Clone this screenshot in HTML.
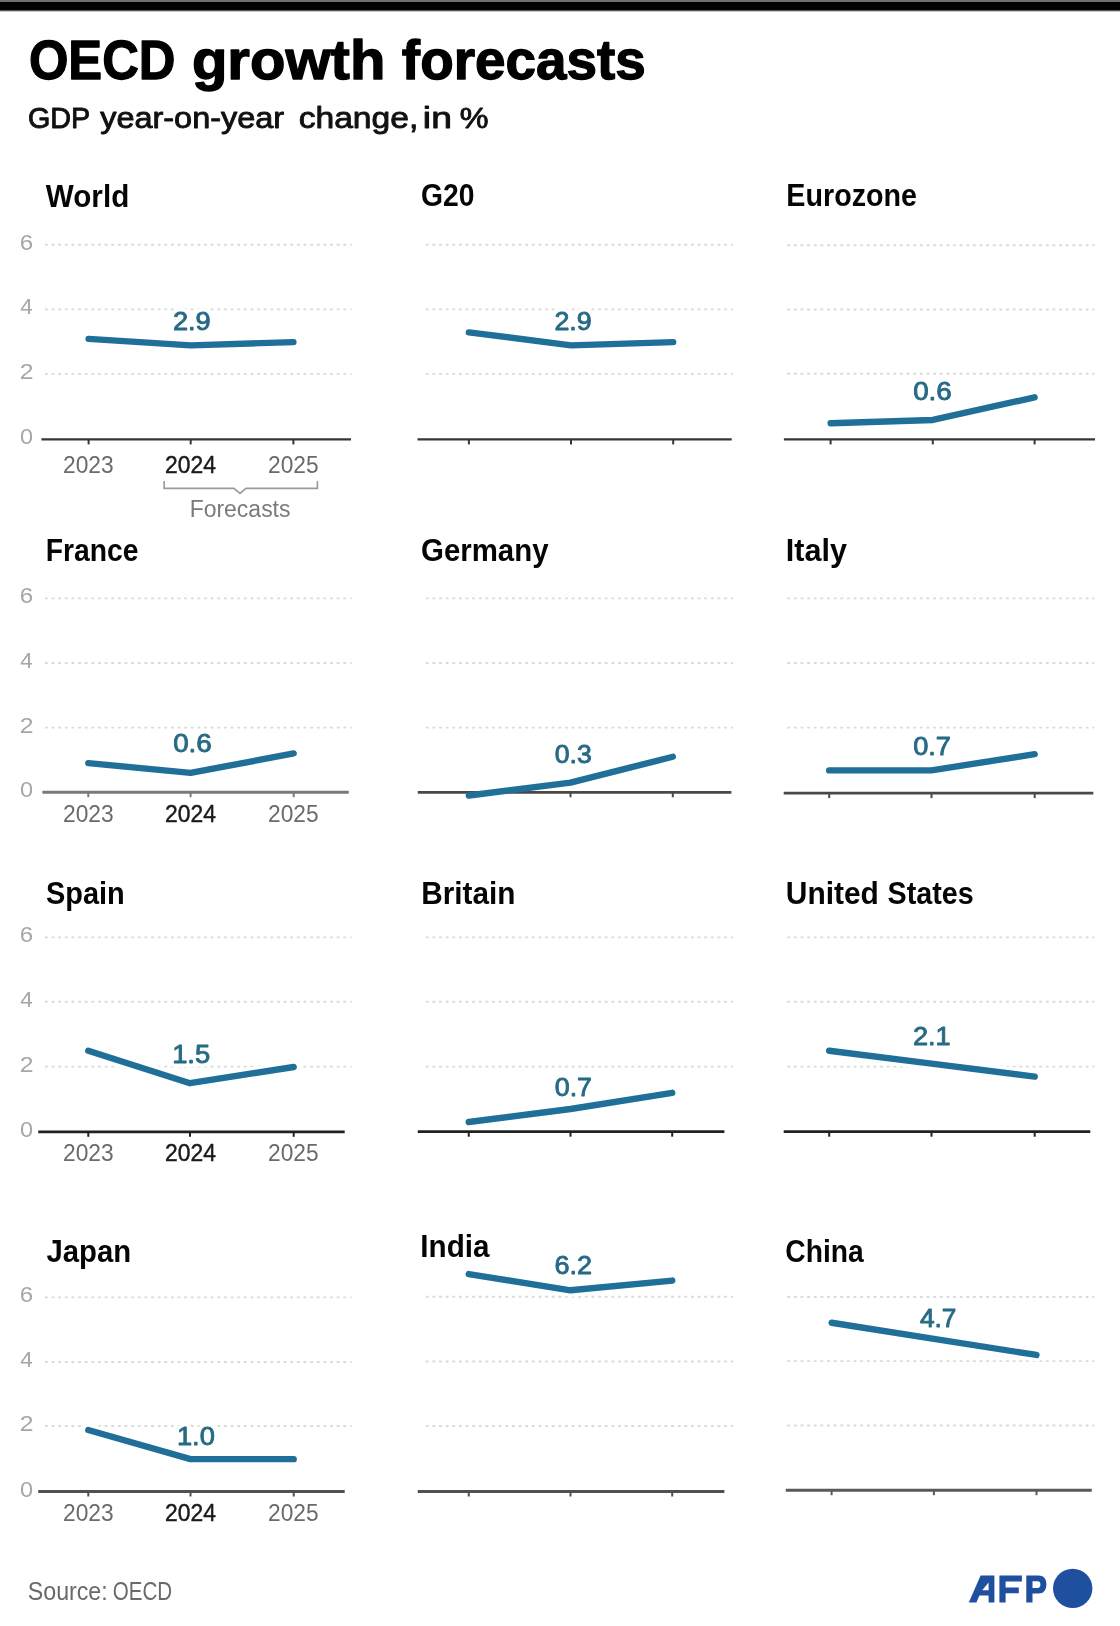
<!DOCTYPE html><html><head><meta charset="utf-8"><title>OECD growth forecasts</title><style>html,body{margin:0;padding:0;background:#fff;width:1120px;height:1626px;overflow:hidden}svg{display:block;filter:blur(0.5px)}.bar{position:absolute;left:0;width:1120px}</style></head><body><svg width="1120" height="1626" viewBox="0 0 1120 1626"><g stroke="#dadada" stroke-width="1.9" stroke-dasharray="2.8 3.83" fill="none"><line x1="45" y1="244.8" x2="351.5" y2="244.8"/><line x1="45" y1="309.4" x2="351.5" y2="309.4"/><line x1="45" y1="373.9" x2="351.5" y2="373.9"/><line x1="425.8" y1="244.8" x2="732.9" y2="244.8"/><line x1="425.8" y1="309.4" x2="732.9" y2="309.4"/><line x1="425.8" y1="373.9" x2="732.9" y2="373.9"/><line x1="787.3" y1="245.2" x2="1094.4" y2="245.2"/><line x1="787.3" y1="309.5" x2="1094.4" y2="309.5"/><line x1="787.3" y1="373.8" x2="1094.4" y2="373.8"/><line x1="45" y1="598.4" x2="351.5" y2="598.4"/><line x1="45" y1="663.0" x2="351.5" y2="663.0"/><line x1="45" y1="727.6" x2="351.5" y2="727.6"/><line x1="425.8" y1="598.4" x2="732.9" y2="598.4"/><line x1="425.8" y1="663.0" x2="732.9" y2="663.0"/><line x1="425.8" y1="727.6" x2="732.9" y2="727.6"/><line x1="787.3" y1="598.4" x2="1094.4" y2="598.4"/><line x1="787.3" y1="663.0" x2="1094.4" y2="663.0"/><line x1="787.3" y1="727.6" x2="1094.4" y2="727.6"/><line x1="45" y1="937.4" x2="351.5" y2="937.4"/><line x1="45" y1="1001.8" x2="351.5" y2="1001.8"/><line x1="45" y1="1066.6" x2="351.5" y2="1066.6"/><line x1="425.8" y1="937.4" x2="732.9" y2="937.4"/><line x1="425.8" y1="1001.8" x2="732.9" y2="1001.8"/><line x1="425.8" y1="1066.6" x2="732.9" y2="1066.6"/><line x1="787.3" y1="937.4" x2="1094.4" y2="937.4"/><line x1="787.3" y1="1001.8" x2="1094.4" y2="1001.8"/><line x1="787.3" y1="1066.6" x2="1094.4" y2="1066.6"/><line x1="45" y1="1297.4" x2="351.5" y2="1297.4"/><line x1="45" y1="1362.0" x2="351.5" y2="1362.0"/><line x1="45" y1="1426.0" x2="351.5" y2="1426.0"/><line x1="425.8" y1="1296.8" x2="732.9" y2="1296.8"/><line x1="425.8" y1="1361.5" x2="732.9" y2="1361.5"/><line x1="425.8" y1="1426.0" x2="732.9" y2="1426.0"/><line x1="787.3" y1="1297.0" x2="1094.4" y2="1297.0"/><line x1="787.3" y1="1361.1" x2="1094.4" y2="1361.1"/><line x1="787.3" y1="1425.5" x2="1094.4" y2="1425.5"/></g><g stroke="#fff" stroke-width="13" stroke-linejoin="round" stroke-linecap="round" fill="none"><polyline points="88.60,338.86 190.70,345.34 293.40,342.10"/><polyline points="468.90,332.37 571.00,345.34 673.20,342.10"/><polyline points="830.60,423.22 932.80,419.98 1034.60,397.32"/><polyline points="88.30,763.13 190.60,772.82 293.70,753.44"/><polyline points="468.90,795.53 570.50,782.60 672.80,756.75"/><polyline points="829.20,770.38 931.50,770.38 1034.70,754.16"/><polyline points="88.30,1050.80 190.00,1083.20 293.70,1067.00"/><polyline points="468.75,1121.99 570.50,1109.03 672.20,1092.84"/><polyline points="829.20,1050.74 931.50,1063.69 1034.70,1076.65"/><polyline points="88.30,1430.04 190.50,1459.15 293.70,1459.15"/><polyline points="468.75,1274.09 570.50,1290.31 672.20,1280.57"/><polyline points="831.60,1322.76 933.90,1338.86 1036.50,1354.96"/></g><g fill="none"><line x1="41.4" y1="439.4" x2="351.0" y2="439.4" stroke="#363636" stroke-width="2.4"/><line x1="88.6" y1="439.4" x2="88.6" y2="444.4" stroke="#363636" stroke-width="2"/><line x1="190.7" y1="439.4" x2="190.7" y2="444.4" stroke="#363636" stroke-width="2"/><line x1="293.4" y1="439.4" x2="293.4" y2="444.4" stroke="#363636" stroke-width="2"/><line x1="417.5" y1="439.4" x2="731.7" y2="439.4" stroke="#363636" stroke-width="2.4"/><line x1="468.9" y1="439.4" x2="468.9" y2="444.4" stroke="#363636" stroke-width="2"/><line x1="571.0" y1="439.4" x2="571.0" y2="444.4" stroke="#363636" stroke-width="2"/><line x1="673.2" y1="439.4" x2="673.2" y2="444.4" stroke="#363636" stroke-width="2"/><line x1="783.9" y1="439.4" x2="1095.0" y2="439.4" stroke="#363636" stroke-width="2.4"/><line x1="830.6" y1="439.4" x2="830.6" y2="444.4" stroke="#363636" stroke-width="2"/><line x1="932.8" y1="439.4" x2="932.8" y2="444.4" stroke="#363636" stroke-width="2"/><line x1="1034.6" y1="439.4" x2="1034.6" y2="444.4" stroke="#363636" stroke-width="2"/><line x1="42.4" y1="792.2" x2="348.8" y2="792.2" stroke="#7a7a7a" stroke-width="3.0"/><line x1="88.3" y1="792.2" x2="88.3" y2="797.2" stroke="#7a7a7a" stroke-width="2"/><line x1="190.6" y1="792.2" x2="190.6" y2="797.2" stroke="#7a7a7a" stroke-width="2"/><line x1="293.7" y1="792.2" x2="293.7" y2="797.2" stroke="#7a7a7a" stroke-width="2"/><line x1="417.75" y1="792.3" x2="731.4" y2="792.3" stroke="#494949" stroke-width="2.8"/><line x1="468.9" y1="792.3" x2="468.9" y2="797.3" stroke="#494949" stroke-width="2"/><line x1="570.5" y1="792.3" x2="570.5" y2="797.3" stroke="#494949" stroke-width="2"/><line x1="672.8" y1="792.3" x2="672.8" y2="797.3" stroke="#494949" stroke-width="2"/><line x1="783.7" y1="793.1" x2="1093.3" y2="793.1" stroke="#494949" stroke-width="2.8"/><line x1="829.2" y1="793.1" x2="829.2" y2="798.1" stroke="#494949" stroke-width="2"/><line x1="931.5" y1="793.1" x2="931.5" y2="798.1" stroke="#494949" stroke-width="2"/><line x1="1034.7" y1="793.1" x2="1034.7" y2="798.1" stroke="#494949" stroke-width="2"/><line x1="38.25" y1="1131.8" x2="344.7" y2="1131.8" stroke="#212121" stroke-width="2.8"/><line x1="88.3" y1="1131.8" x2="88.3" y2="1136.8" stroke="#212121" stroke-width="2"/><line x1="190.0" y1="1131.8" x2="190.0" y2="1136.8" stroke="#212121" stroke-width="2"/><line x1="293.7" y1="1131.8" x2="293.7" y2="1136.8" stroke="#212121" stroke-width="2"/><line x1="417.75" y1="1131.7" x2="724.4" y2="1131.7" stroke="#212121" stroke-width="2.8"/><line x1="468.75" y1="1131.7" x2="468.75" y2="1136.7" stroke="#212121" stroke-width="2"/><line x1="570.5" y1="1131.7" x2="570.5" y2="1136.7" stroke="#212121" stroke-width="2"/><line x1="672.2" y1="1131.7" x2="672.2" y2="1136.7" stroke="#212121" stroke-width="2"/><line x1="783.7" y1="1131.7" x2="1090.3" y2="1131.7" stroke="#212121" stroke-width="2.8"/><line x1="829.2" y1="1131.7" x2="829.2" y2="1136.7" stroke="#212121" stroke-width="2"/><line x1="931.5" y1="1131.7" x2="931.5" y2="1136.7" stroke="#212121" stroke-width="2"/><line x1="1034.7" y1="1131.7" x2="1034.7" y2="1136.7" stroke="#212121" stroke-width="2"/><line x1="38.25" y1="1491.5" x2="344.7" y2="1491.5" stroke="#505050" stroke-width="3.0"/><line x1="88.3" y1="1491.5" x2="88.3" y2="1496.5" stroke="#505050" stroke-width="2"/><line x1="190.5" y1="1491.5" x2="190.5" y2="1496.5" stroke="#505050" stroke-width="2"/><line x1="293.7" y1="1491.5" x2="293.7" y2="1496.5" stroke="#505050" stroke-width="2"/><line x1="417.75" y1="1491.5" x2="724.4" y2="1491.5" stroke="#505050" stroke-width="3.0"/><line x1="468.75" y1="1491.5" x2="468.75" y2="1496.5" stroke="#505050" stroke-width="2"/><line x1="570.5" y1="1491.5" x2="570.5" y2="1496.5" stroke="#505050" stroke-width="2"/><line x1="672.2" y1="1491.5" x2="672.2" y2="1496.5" stroke="#505050" stroke-width="2"/><line x1="785.8" y1="1490.2" x2="1091.8" y2="1490.2" stroke="#5a5a5a" stroke-width="3.0"/><line x1="831.6" y1="1490.2" x2="831.6" y2="1495.2" stroke="#5a5a5a" stroke-width="2"/><line x1="933.9" y1="1490.2" x2="933.9" y2="1495.2" stroke="#5a5a5a" stroke-width="2"/><line x1="1036.5" y1="1490.2" x2="1036.5" y2="1495.2" stroke="#5a5a5a" stroke-width="2"/></g><g stroke="#1f6f98" stroke-width="6.4" stroke-linejoin="round" stroke-linecap="round" fill="none"><polyline points="88.60,338.86 190.70,345.34 293.40,342.10"/><polyline points="468.90,332.37 571.00,345.34 673.20,342.10"/><polyline points="830.60,423.22 932.80,419.98 1034.60,397.32"/><polyline points="88.30,763.13 190.60,772.82 293.70,753.44"/><polyline points="468.90,795.53 570.50,782.60 672.80,756.75"/><polyline points="829.20,770.38 931.50,770.38 1034.70,754.16"/><polyline points="88.30,1050.80 190.00,1083.20 293.70,1067.00"/><polyline points="468.75,1121.99 570.50,1109.03 672.20,1092.84"/><polyline points="829.20,1050.74 931.50,1063.69 1034.70,1076.65"/><polyline points="88.30,1430.04 190.50,1459.15 293.70,1459.15"/><polyline points="468.75,1274.09 570.50,1290.31 672.20,1280.57"/><polyline points="831.60,1322.76 933.90,1338.86 1036.50,1354.96"/></g><path d="M164.1,481 V488.4 H233.9 L240,493.4 L246,488.4 H317.4 V481" fill="none" stroke="#9a9a9a" stroke-width="1.6"/><g font-family="Liberation Sans, sans-serif"><text x="28.89" y="79.30" font-size="55.5" font-weight="700" textLength="146.61" lengthAdjust="spacingAndGlyphs" fill="#000" stroke="#000" stroke-width="1.3" stroke-linejoin="round">OECD</text><text x="191.90" y="79.30" font-size="55.5" font-weight="700" textLength="193.48" lengthAdjust="spacingAndGlyphs" fill="#000" stroke="#000" stroke-width="1.3" stroke-linejoin="round">growth</text><text x="401.86" y="79.30" font-size="55.5" font-weight="700" textLength="243.96" lengthAdjust="spacingAndGlyphs" fill="#000" stroke="#000" stroke-width="1.3" stroke-linejoin="round">forecasts</text><text x="28.01" y="127.90" font-size="30" font-weight="400" textLength="62.29" lengthAdjust="spacingAndGlyphs" fill="#111" stroke="#111" stroke-width="0.9" stroke-linejoin="round">GDP</text><text x="100.18" y="127.90" font-size="30" font-weight="400" textLength="184.00" lengthAdjust="spacingAndGlyphs" fill="#111" stroke="#111" stroke-width="0.9" stroke-linejoin="round">year-on-year</text><text x="298.65" y="127.90" font-size="30" font-weight="400" textLength="119.70" lengthAdjust="spacingAndGlyphs" fill="#111" stroke="#111" stroke-width="0.9" stroke-linejoin="round">change,</text><text x="422.87" y="127.90" font-size="30" font-weight="400" textLength="28.99" lengthAdjust="spacingAndGlyphs" fill="#111" stroke="#111" stroke-width="0.9" stroke-linejoin="round">in</text><text x="459.67" y="127.90" font-size="30" font-weight="400" textLength="28.76" lengthAdjust="spacingAndGlyphs" fill="#111" stroke="#111" stroke-width="0.9" stroke-linejoin="round">%</text><text x="45.80" y="206.70" font-size="30.5" font-weight="700" textLength="83.44" lengthAdjust="spacingAndGlyphs" fill="#050505">World</text><text x="172.94" y="330.40" font-size="26" font-weight="400" textLength="37.82" lengthAdjust="spacingAndGlyphs" fill="#fff" stroke="#fff" stroke-width="8" stroke-linejoin="round">2.9</text><text x="172.94" y="330.40" font-size="26" font-weight="400" textLength="37.82" lengthAdjust="spacingAndGlyphs" fill="#276a85" stroke="#276a85" stroke-width="0.9" stroke-linejoin="round">2.9</text><text x="420.94" y="206.30" font-size="30.5" font-weight="700" textLength="53.43" lengthAdjust="spacingAndGlyphs" fill="#050505">G20</text><text x="554.46" y="330.40" font-size="26" font-weight="400" textLength="37.28" lengthAdjust="spacingAndGlyphs" fill="#fff" stroke="#fff" stroke-width="8" stroke-linejoin="round">2.9</text><text x="554.46" y="330.40" font-size="26" font-weight="400" textLength="37.28" lengthAdjust="spacingAndGlyphs" fill="#276a85" stroke="#276a85" stroke-width="0.9" stroke-linejoin="round">2.9</text><text x="786.32" y="206.00" font-size="30.5" font-weight="700" textLength="130.68" lengthAdjust="spacingAndGlyphs" fill="#050505">Eurozone</text><text x="913.18" y="400.40" font-size="26" font-weight="400" textLength="38.60" lengthAdjust="spacingAndGlyphs" fill="#fff" stroke="#fff" stroke-width="8" stroke-linejoin="round">0.6</text><text x="913.18" y="400.40" font-size="26" font-weight="400" textLength="38.60" lengthAdjust="spacingAndGlyphs" fill="#276a85" stroke="#276a85" stroke-width="0.9" stroke-linejoin="round">0.6</text><text x="45.74" y="561.30" font-size="30.5" font-weight="700" textLength="92.81" lengthAdjust="spacingAndGlyphs" fill="#050505">France</text><text x="173.18" y="751.70" font-size="26" font-weight="400" textLength="38.60" lengthAdjust="spacingAndGlyphs" fill="#fff" stroke="#fff" stroke-width="8" stroke-linejoin="round">0.6</text><text x="173.18" y="751.70" font-size="26" font-weight="400" textLength="38.60" lengthAdjust="spacingAndGlyphs" fill="#276a85" stroke="#276a85" stroke-width="0.9" stroke-linejoin="round">0.6</text><text x="421.10" y="561.30" font-size="30.5" font-weight="700" textLength="127.43" lengthAdjust="spacingAndGlyphs" fill="#050505">Germany</text><text x="554.73" y="763.30" font-size="26" font-weight="400" textLength="37.01" lengthAdjust="spacingAndGlyphs" fill="#fff" stroke="#fff" stroke-width="8" stroke-linejoin="round">0.3</text><text x="554.73" y="763.30" font-size="26" font-weight="400" textLength="37.01" lengthAdjust="spacingAndGlyphs" fill="#276a85" stroke="#276a85" stroke-width="0.9" stroke-linejoin="round">0.3</text><text x="785.80" y="561.30" font-size="30.5" font-weight="700" textLength="61.08" lengthAdjust="spacingAndGlyphs" fill="#050505">Italy</text><text x="913.20" y="755.30" font-size="26" font-weight="400" textLength="37.82" lengthAdjust="spacingAndGlyphs" fill="#fff" stroke="#fff" stroke-width="8" stroke-linejoin="round">0.7</text><text x="913.20" y="755.30" font-size="26" font-weight="400" textLength="37.82" lengthAdjust="spacingAndGlyphs" fill="#276a85" stroke="#276a85" stroke-width="0.9" stroke-linejoin="round">0.7</text><text x="45.95" y="904.30" font-size="30.5" font-weight="700" textLength="78.86" lengthAdjust="spacingAndGlyphs" fill="#050505">Spain</text><text x="172.15" y="1062.50" font-size="26" font-weight="400" textLength="38.02" lengthAdjust="spacingAndGlyphs" fill="#fff" stroke="#fff" stroke-width="8" stroke-linejoin="round">1.5</text><text x="172.15" y="1062.50" font-size="26" font-weight="400" textLength="38.02" lengthAdjust="spacingAndGlyphs" fill="#276a85" stroke="#276a85" stroke-width="0.9" stroke-linejoin="round">1.5</text><text x="421.25" y="904.30" font-size="30.5" font-weight="700" textLength="94.25" lengthAdjust="spacingAndGlyphs" fill="#050505">Britain</text><text x="554.72" y="1095.80" font-size="26" font-weight="400" textLength="37.28" lengthAdjust="spacingAndGlyphs" fill="#fff" stroke="#fff" stroke-width="8" stroke-linejoin="round">0.7</text><text x="554.72" y="1095.80" font-size="26" font-weight="400" textLength="37.28" lengthAdjust="spacingAndGlyphs" fill="#276a85" stroke="#276a85" stroke-width="0.9" stroke-linejoin="round">0.7</text><text x="785.78" y="904.30" font-size="30.5" font-weight="700" textLength="93.12" lengthAdjust="spacingAndGlyphs" fill="#050505">United</text><text x="887.56" y="904.30" font-size="30.5" font-weight="700" textLength="86.16" lengthAdjust="spacingAndGlyphs" fill="#050505">States</text><text x="912.94" y="1045.40" font-size="26" font-weight="400" textLength="37.82" lengthAdjust="spacingAndGlyphs" fill="#fff" stroke="#fff" stroke-width="8" stroke-linejoin="round">2.1</text><text x="912.94" y="1045.40" font-size="26" font-weight="400" textLength="37.82" lengthAdjust="spacingAndGlyphs" fill="#276a85" stroke="#276a85" stroke-width="0.9" stroke-linejoin="round">2.1</text><text x="46.42" y="1261.80" font-size="30.5" font-weight="700" textLength="84.71" lengthAdjust="spacingAndGlyphs" fill="#050505">Japan</text><text x="176.95" y="1444.90" font-size="26" font-weight="400" textLength="37.91" lengthAdjust="spacingAndGlyphs" fill="#fff" stroke="#fff" stroke-width="8" stroke-linejoin="round">1.0</text><text x="176.95" y="1444.90" font-size="26" font-weight="400" textLength="37.91" lengthAdjust="spacingAndGlyphs" fill="#276a85" stroke="#276a85" stroke-width="0.9" stroke-linejoin="round">1.0</text><text x="420.36" y="1256.90" font-size="30.5" font-weight="700" textLength="69.17" lengthAdjust="spacingAndGlyphs" fill="#050505">India</text><text x="554.45" y="1273.80" font-size="26" font-weight="400" textLength="37.56" lengthAdjust="spacingAndGlyphs" fill="#fff" stroke="#fff" stroke-width="8" stroke-linejoin="round">6.2</text><text x="554.45" y="1273.80" font-size="26" font-weight="400" textLength="37.56" lengthAdjust="spacingAndGlyphs" fill="#276a85" stroke="#276a85" stroke-width="0.9" stroke-linejoin="round">6.2</text><text x="785.34" y="1261.50" font-size="30.5" font-weight="700" textLength="78.41" lengthAdjust="spacingAndGlyphs" fill="#050505">China</text><text x="919.94" y="1327.00" font-size="26" font-weight="400" textLength="36.53" lengthAdjust="spacingAndGlyphs" fill="#fff" stroke="#fff" stroke-width="8" stroke-linejoin="round">4.7</text><text x="919.94" y="1327.00" font-size="26" font-weight="400" textLength="36.53" lengthAdjust="spacingAndGlyphs" fill="#276a85" stroke="#276a85" stroke-width="0.9" stroke-linejoin="round">4.7</text><text x="19.68" y="249.80" font-size="21.5" font-weight="400" textLength="13.40" lengthAdjust="spacingAndGlyphs" fill="#a6a6a6">6</text><text x="20.28" y="314.40" font-size="21.5" font-weight="400" textLength="12.47" lengthAdjust="spacingAndGlyphs" fill="#a6a6a6">4</text><text x="19.65" y="378.90" font-size="21.5" font-weight="400" textLength="13.75" lengthAdjust="spacingAndGlyphs" fill="#a6a6a6">2</text><text x="19.98" y="444.40" font-size="21.5" font-weight="400" textLength="13.08" lengthAdjust="spacingAndGlyphs" fill="#a6a6a6">0</text><text x="19.68" y="603.40" font-size="21.5" font-weight="400" textLength="13.40" lengthAdjust="spacingAndGlyphs" fill="#a6a6a6">6</text><text x="20.28" y="668.00" font-size="21.5" font-weight="400" textLength="12.47" lengthAdjust="spacingAndGlyphs" fill="#a6a6a6">4</text><text x="19.65" y="732.60" font-size="21.5" font-weight="400" textLength="13.75" lengthAdjust="spacingAndGlyphs" fill="#a6a6a6">2</text><text x="19.98" y="797.20" font-size="21.5" font-weight="400" textLength="13.08" lengthAdjust="spacingAndGlyphs" fill="#a6a6a6">0</text><text x="19.68" y="942.40" font-size="21.5" font-weight="400" textLength="13.40" lengthAdjust="spacingAndGlyphs" fill="#a6a6a6">6</text><text x="20.28" y="1006.80" font-size="21.5" font-weight="400" textLength="12.47" lengthAdjust="spacingAndGlyphs" fill="#a6a6a6">4</text><text x="19.65" y="1071.60" font-size="21.5" font-weight="400" textLength="13.75" lengthAdjust="spacingAndGlyphs" fill="#a6a6a6">2</text><text x="19.98" y="1136.80" font-size="21.5" font-weight="400" textLength="13.08" lengthAdjust="spacingAndGlyphs" fill="#a6a6a6">0</text><text x="19.68" y="1302.40" font-size="21.5" font-weight="400" textLength="13.40" lengthAdjust="spacingAndGlyphs" fill="#a6a6a6">6</text><text x="20.28" y="1367.00" font-size="21.5" font-weight="400" textLength="12.47" lengthAdjust="spacingAndGlyphs" fill="#a6a6a6">4</text><text x="19.65" y="1431.00" font-size="21.5" font-weight="400" textLength="13.75" lengthAdjust="spacingAndGlyphs" fill="#a6a6a6">2</text><text x="19.98" y="1496.50" font-size="21.5" font-weight="400" textLength="13.08" lengthAdjust="spacingAndGlyphs" fill="#a6a6a6">0</text><text x="63.01" y="473.00" font-size="24" font-weight="400" textLength="50.67" lengthAdjust="spacingAndGlyphs" fill="#6a6a6a">2023</text><text x="165.03" y="473.00" font-size="24" font-weight="400" textLength="50.85" lengthAdjust="spacingAndGlyphs" fill="#1a1a1a" stroke="#1a1a1a" stroke-width="0.45" stroke-linejoin="round">2024</text><text x="268.02" y="473.00" font-size="24" font-weight="400" textLength="50.53" lengthAdjust="spacingAndGlyphs" fill="#6a6a6a">2025</text><text x="63.01" y="821.50" font-size="24" font-weight="400" textLength="50.67" lengthAdjust="spacingAndGlyphs" fill="#6a6a6a">2023</text><text x="165.03" y="821.50" font-size="24" font-weight="400" textLength="50.85" lengthAdjust="spacingAndGlyphs" fill="#1a1a1a" stroke="#1a1a1a" stroke-width="0.45" stroke-linejoin="round">2024</text><text x="268.02" y="821.50" font-size="24" font-weight="400" textLength="50.53" lengthAdjust="spacingAndGlyphs" fill="#6a6a6a">2025</text><text x="63.01" y="1160.50" font-size="24" font-weight="400" textLength="50.67" lengthAdjust="spacingAndGlyphs" fill="#6a6a6a">2023</text><text x="165.03" y="1160.50" font-size="24" font-weight="400" textLength="50.85" lengthAdjust="spacingAndGlyphs" fill="#1a1a1a" stroke="#1a1a1a" stroke-width="0.45" stroke-linejoin="round">2024</text><text x="268.02" y="1160.50" font-size="24" font-weight="400" textLength="50.53" lengthAdjust="spacingAndGlyphs" fill="#6a6a6a">2025</text><text x="63.01" y="1520.50" font-size="24" font-weight="400" textLength="50.67" lengthAdjust="spacingAndGlyphs" fill="#6a6a6a">2023</text><text x="165.03" y="1520.50" font-size="24" font-weight="400" textLength="50.85" lengthAdjust="spacingAndGlyphs" fill="#1a1a1a" stroke="#1a1a1a" stroke-width="0.45" stroke-linejoin="round">2024</text><text x="268.02" y="1520.50" font-size="24" font-weight="400" textLength="50.53" lengthAdjust="spacingAndGlyphs" fill="#6a6a6a">2025</text><text x="189.64" y="516.90" font-size="23.5" font-weight="400" textLength="100.86" lengthAdjust="spacingAndGlyphs" fill="#7a7a7a">Forecasts</text><text x="27.74" y="1600.20" font-size="25" font-weight="400" textLength="80.01" lengthAdjust="spacingAndGlyphs" fill="#6a6a6a">Source:</text><text x="112.77" y="1600.20" font-size="25" font-weight="400" textLength="59.34" lengthAdjust="spacingAndGlyphs" fill="#6a6a6a">OECD</text></g><g fill="#1f4f9f"><path fill-rule="evenodd" d="M968.8,1602.5 L980.6,1575.6 L994.4,1575.6 L994.4,1602.5 L988.6,1602.5 L988.6,1595.6 L979.4,1595.6 L976.4,1602.5 Z M982.2,1590.2 L988.6,1582.4 L988.6,1590.2 Z"/><path d="M999.4,1575.6 H1021.9 V1581.6 H1005.6 V1587.4 H1018.8 V1593.2 H1005.6 V1602.5 H999.4 Z"/><path fill-rule="evenodd" d="M1026.3,1575.6 H1038.5 C1043.5,1575.6 1046.4,1578.8 1046.4,1584.4 C1046.4,1590.0 1043.5,1593.4 1038.5,1593.4 H1032.5 V1602.5 H1026.3 Z M1032.5,1581.2 H1037.6 C1039.6,1581.2 1040.4,1582.4 1040.4,1584.5 C1040.4,1586.6 1039.6,1587.9 1037.6,1587.9 H1032.5 Z"/><circle cx="1072.7" cy="1588.4" r="19.7"/></g></svg><div class="bar" style="top:0;height:2px;background:#6e6e6e"></div><div class="bar" style="top:2px;height:8px;background:#000"></div><div class="bar" style="top:10px;height:1px;background:#5a5a5a"></div><div class="bar" style="top:11px;height:1px;background:#c4c4c4"></div></body></html>
